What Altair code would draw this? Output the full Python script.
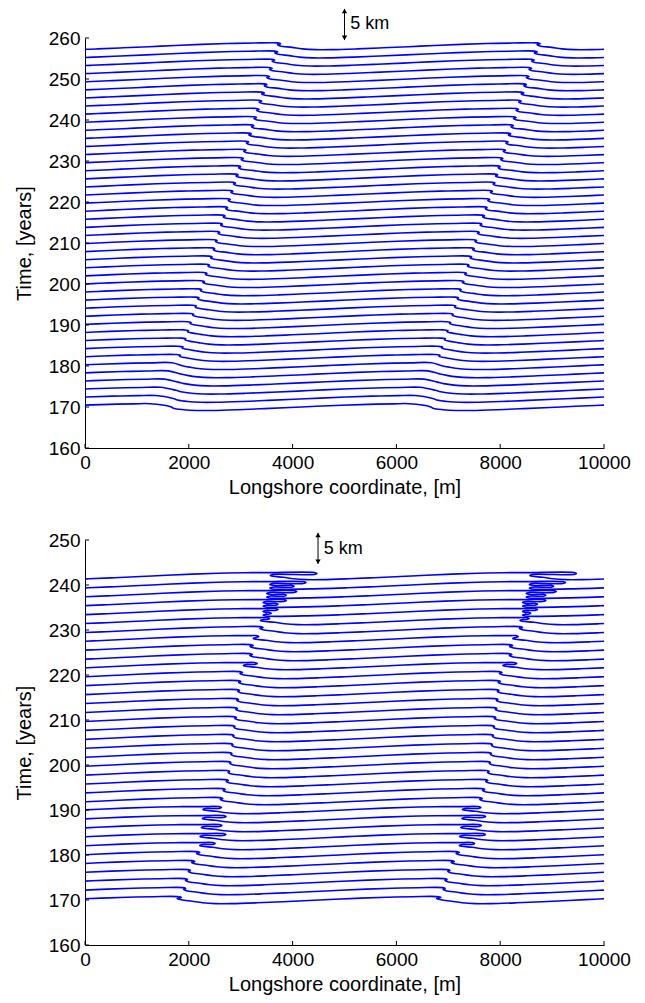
import altair as alt
import pandas as pd

FONT = "Liberation Sans"
BLUE = "#0000ff"

# ---------------- data ----------------
# shoreline profile over one wave (5000 m) after the shock: offset u [m], displacement [km]
PROFILE_U = [250, 450, 700, 1000, 1500, 2000, 2500, 3000, 3500, 4000, 4500]
PROFILE_D = [-0.20, -0.45, -0.58, -0.58, -0.45, -0.27, -0.08, 0.12, 0.30, 0.44, 0.53]
SHOCK_HIGH = 0.55
SHOCK_LOW = 0.05
WAVELENGTH = 5000

# top panel
TOP_T = [170, 172, 174, 176, 178, 180, 182, 184, 186, 188, 190, 192, 194, 196, 198,
         200, 202, 204, 206, 208, 210, 212, 214, 216, 218, 220, 222, 224, 226, 228,
         230, 232, 234, 236, 238, 240, 242, 244, 246, 248, 250, 252, 254, 256, 258]
TOP_S = [1450, 1530, 1600, 1660, 1720, 1775, 1830, 1880, 1935, 1985, 2035, 2085, 2135, 2185, 2235,
         2285, 2335, 2385, 2435, 2485, 2530, 2580, 2630, 2680, 2730, 2780, 2830, 2880, 2930, 2980,
         3030, 3080, 3130, 3180, 3230, 3280, 3330, 3380, 3430, 3480, 3530, 3580, 3630, 3685, 3740]
TOP_W = [400, 340, 300, 260, 230, 200, 180, 160, 150, 140, 130, 120, 110, 100, 100,
         90, 90, 80, 80, 70, 70, 60, 60, 60, 50, 50, 50, 50, 40, 40,
         40, 40, 40, 40, 40, 40, 40, 40, 40, 40, 40, 40, 40, 40, 40]
TOP_H = [0, 0, 0, 0, 0, 0, 20, 20, 20, 20, 20, 20, 25, 25, 25,
         30, 30, 30, 30, 30, 35, 35, 35, 35, 35, 40, 40, 40, 40, 40,
         45, 45, 45, 45, 45, 50, 50, 50, 50, 50, 55, 55, 55, 55, 60]

# bottom panel
BOT_T = [170, 172, 174, 176, 178, 180, 182, 184, 186, 188, 190, 192, 194, 196, 198,
         200, 202, 204, 206, 208, 210, 212, 214, 216, 218, 220, 222, 224, 226, 228,
         230, 232, 234, 236, 238, 240, 242]
BOT_S = [1815, 1920, 1955, 2010, 2085, 2180, 2210, 2215, 2240, 2260, 2270, 2630, 2680, 2740, 2770,
         2800, 2820, 2840, 2860, 2880, 2900, 2920, 2940, 2960, 2980, 3010, 3050, 3200, 3210, 3240,
         3400, 3400, 3430, 3430, 3500, 3560, 3570]
BOT_W = [80, 70, 70, 60, 60, 60, 60, 60, 60, 60, 60, 60, 60, 60, 60,
         80, 80, 80, 80, 80, 80, 80, 80, 70, 70, 60, 60, 60, 60, 60,
         60, 60, 60, 60, 60, 60, 60]
BOT_H = [80, 40, 40, 40, 60, 60, 0, 0, 0, 0, 0, 50, 40, 40, 30,
         20, 20, 20, 20, 20, 30, 30, 30, 30, 40, 50, 0, 50, 60, 0,
         60, 0, 0, 0, 0, 0, 0]
# overturned shoreline: successive turning points (right, left, ...) relative to the shock [m]
BOT_FOLDS = {182: [300, 0], 184: [500, 0], 186: [400, 0], 188: [460, 0], 190: [360, 0],
             222: [270, 0], 228: [110, 0], 232: [160, -20],
             234: [290, 0, 160, 0], 236: [450, 0, 290, 0], 238: [580, 0, 380, 0],
             240: [700, 0, 470, 0], 242: [900, 0]}

X_TICKS = [0, 2000, 4000, 6000, 8000, 10000]
TOP_Y_TICKS = [160, 170, 180, 190, 200, 210, 220, 230, 240, 250, 260]
BOT_Y_TICKS = [160, 170, 180, 190, 200, 210, 220, 230, 240, 250]

TOP_KM_TO_YR = 1.46   # 5 km arrow = 7.3 yr
BOT_KM_TO_YR = 1.38   # 5 km arrow = 6.9 yr
FOLD_STEP = 0.30
TURN_R = 50


def shock_section(xs, w, h, folds):
    pts = [(xs - w / 2, SHOCK_HIGH)]
    lv = SHOCK_HIGH
    if folds:
        for j, off in enumerate(folds):
            X = xs + off
            nxt = lv - FOLD_STEP
            dirn = 1 if j % 2 == 0 else -1
            pts += [(X - dirn * TURN_R, lv), (X, (lv + nxt) / 2), (X - dirn * TURN_R, nxt)]
            lv = nxt
        if lv > SHOCK_LOW:
            pts.append((xs + w / 2 + 60, SHOCK_LOW))
            lv = SHOCK_LOW
    else:
        if h:
            pts += [(xs + h / 2, 0.42), (xs - h / 2, 0.25)]
        pts.append((xs + w / 2, SHOCK_LOW))
        lv = SHOCK_LOW
    for u, d in zip(PROFILE_U, PROFILE_D):
        if u < 1000 and d > lv + 0.02 and folds:
            continue
        pts.append((xs + u, d))
    return pts


def panel_rows(times, shocks, widths, hooks, folds_map, k2y):
    rows = []
    for ci, (t, s, w, h) in enumerate(zip(times, shocks, widths, hooks)):
        folds = folds_map.get(t)
        pts = []
        for k in (-1, 0, 1):
            pts += shock_section(s + k * WAVELENGTH, w, h, folds)
        for o, (x, d) in enumerate(pts):
            rows.append({"x": x, "y": t + d * k2y, "c": ci, "o": o})
    return pd.DataFrame(rows)


def panel(df, ymax, yticks, height, arrow_x, arrow_lo, arrow_hi, text_x, text_y):
    xs = alt.Scale(domain=[0, 10000], nice=False, zero=False)
    ys = alt.Scale(domain=[160, ymax], nice=False, zero=False)
    lines = alt.Chart(df).mark_line(
        clip=True, interpolate="catmull-rom", color=BLUE, strokeWidth=1.6
    ).encode(
        x=alt.X("x:Q", scale=xs, axis=alt.Axis(values=X_TICKS, title="Longshore coordinate, [m]",
                                                 format="d", labelFlush=False)),
        y=alt.Y("y:Q", scale=ys, axis=alt.Axis(values=yticks, title="Time, [years]", format="d")),
        detail="c:N",
        order="o:Q",
    )
    xt = alt.Chart(pd.DataFrame({"x": X_TICKS})).mark_rule(color="black", strokeWidth=1).encode(
        x="x:Q", y=alt.value(height), y2=alt.value(height - 4))
    yt = alt.Chart(pd.DataFrame({"y": yticks})).mark_rule(color="black", strokeWidth=1).encode(
        y="y:Q", x=alt.value(0), x2=alt.value(4))
    adf = pd.DataFrame({"x": [arrow_x], "y": [arrow_lo], "y2": [arrow_hi]})
    arrow = alt.Chart(adf).mark_rule(color="black", strokeWidth=1).encode(
        x="x:Q", y="y:Q", y2="y2:Q")
    span = arrow_hi - arrow_lo
    up = alt.Chart(pd.DataFrame({"x": [arrow_x], "y": [arrow_hi - span * 0.07]})).mark_point(
        shape="triangle-up", filled=True, size=28, color="black", opacity=1).encode(
        x="x:Q", y="y:Q")
    dn = alt.Chart(pd.DataFrame({"x": [arrow_x], "y": [arrow_lo + span * 0.07]})).mark_point(
        shape="triangle-down", filled=True, size=28, color="black", opacity=1).encode(
        x="x:Q", y="y:Q")
    txt = alt.Chart(pd.DataFrame({"x": [text_x], "y": [text_y], "t": ["5 km"]})).mark_text(
        align="left", baseline="middle", font=FONT, fontSize=18, color="black").encode(
        x="x:Q", y="y:Q", text="t:N")
    return alt.layer(lines, xt, yt, arrow, up, dn, txt).properties(width=519, height=height)


top_df = panel_rows(TOP_T, TOP_S, TOP_W, TOP_H, {}, TOP_KM_TO_YR)
bot_df = panel_rows(BOT_T, BOT_S, BOT_W, BOT_H, BOT_FOLDS, BOT_KM_TO_YR)

top = panel(top_df, 260, TOP_Y_TICKS, 410, 5000, 259.5, 267.1, 5110, 263.4)
bot = panel(bot_df, 250, BOT_Y_TICKS, 405, 4490, 244.7, 251.6, 4600, 248.0)

chart = alt.vconcat(top, bot, spacing=34).properties(
    padding={"left": 6, "top": 0, "right": 5, "bottom": 5}
).configure_view(stroke=None).configure_axis(
    grid=False, ticks=False, domainColor="black", domainWidth=1,
    labelFont=FONT, titleFont=FONT, labelFontSize=19, titleFontSize=20,
    titleFontWeight="normal", labelColor="black", titleColor="black",
    labelPadding=5,
).configure_axisX(titlePadding=5).configure_axisY(titlePadding=14)

chart.save("out.html", embed_options={"renderer": "svg", "actions": False})
